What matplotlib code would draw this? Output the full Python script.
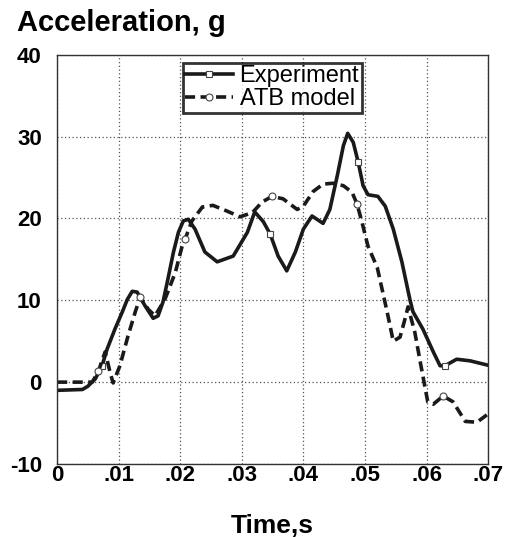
import matplotlib
matplotlib.use("Agg")
import matplotlib.pyplot as plt
from matplotlib.ticker import FixedLocator, FixedFormatter

# Experiment (solid)
exp_t = [0.0, 0.0041, 0.0050, 0.0062, 0.0073, 0.0081, 0.0094, 0.0106, 0.0114,
         0.0122, 0.0130, 0.0143, 0.0156, 0.0164, 0.0172, 0.0180, 0.0189, 0.0197,
         0.0205, 0.0213, 0.0224, 0.0240, 0.0260, 0.0286, 0.0309, 0.0321, 0.0335,
         0.0346, 0.0359, 0.0373, 0.0387, 0.0400, 0.0414, 0.0432, 0.0443, 0.0455,
         0.0465, 0.0472, 0.0481, 0.0489, 0.0497, 0.0505, 0.0521, 0.0533, 0.0546,
         0.0560, 0.0573, 0.0578, 0.0594, 0.0611, 0.0622, 0.0630, 0.0649, 0.0671,
         0.0698]
exp_g = [-1.0, -0.9, -0.5, 0.4, 2.0, 4.0, 6.5, 8.6, 10.1,
         11.1, 11.0, 9.3, 7.8, 8.1, 9.8, 12.6, 15.9, 18.3,
         19.7, 19.9, 18.7, 15.9, 14.7, 15.4, 18.3, 20.8, 19.6,
         18.1, 15.4, 13.6, 15.9, 18.7, 20.3, 19.4, 21.1, 25.2,
         28.9, 30.4, 29.3, 26.9, 24.0, 22.9, 22.7, 21.5, 18.7,
         14.7, 10.1, 8.6, 6.5, 3.7, 2.0, 2.0, 2.8, 2.6,
         2.1]
exp_marks = [4, 27, 39, 51]

# ATB model (dashed)
atb_t = [0.0, 0.0057, 0.0067, 0.0078, 0.0086, 0.0091, 0.0102, 0.0115, 0.0127,
         0.0135, 0.0148, 0.0159, 0.0175, 0.0192, 0.0203, 0.0208, 0.0219, 0.0236,
         0.0253, 0.0276, 0.0297, 0.0317, 0.0333, 0.0349, 0.0367, 0.0390, 0.0400,
         0.0416, 0.0432, 0.0448, 0.0465, 0.0479, 0.0487, 0.0495, 0.0505, 0.0520,
         0.0536, 0.0546, 0.0557, 0.0565, 0.0570, 0.0581, 0.0590, 0.0596, 0.0602,
         0.0611, 0.0627, 0.0643, 0.0663, 0.0682, 0.0698]
atb_g = [0.0, 0.0, 1.3, 3.7, 1.2, -0.1, 2.0, 5.6, 8.6,
         10.4, 8.9, 8.1, 10.1, 13.4, 16.6, 17.5, 19.7, 21.4,
         21.6, 20.9, 20.2, 20.7, 22.0, 22.7, 22.4, 21.1, 21.5,
         23.3, 24.2, 24.3, 24.0, 23.2, 21.8, 19.6, 16.6, 14.0,
         8.6, 5.0, 5.5, 7.7, 9.2, 6.1, 2.4, 0.0, -2.4,
         -2.7, -1.7, -2.4, -4.8, -4.9, -4.0]
atb_marks = [2, 9, 15, 23, 32, 46]

x_ticks = [0, 0.01, 0.02, 0.03, 0.04, 0.05, 0.06, 0.07]
x_labels = ["0", ".01", ".02", ".03", ".04", ".05", ".06", ".07"]
y_ticks = [-10, 0, 10, 20, 30, 40]

plt.rcParams["font.family"] = ["Liberation Sans", "DejaVu Sans"]
plt.rcParams["axes.unicode_minus"] = False

fig = plt.figure(figsize=(5.1, 5.37), dpi=100)
ax = fig.add_axes([0.112, 0.136, 0.845, 0.762])

ax.plot(exp_t, exp_g, color="#1a1a1a", lw=2.6, marker="s", markevery=exp_marks,
        ms=5, mfc="white", mec="#444444", mew=0.8, label="Experiment",
        solid_joinstyle="round")
ax.plot(atb_t, atb_g, color="#1a1a1a", lw=2.6, ls=(0, (2.8, 1.5)), marker="o",
        markevery=atb_marks, ms=5, mfc="white", mec="#444444", mew=0.8,
        label="ATB model")

ax.set_xlim(0, 0.07)
ax.set_ylim(-10, 40)
ax.xaxis.set_major_locator(FixedLocator(x_ticks))
ax.xaxis.set_major_formatter(FixedFormatter(x_labels))
ax.set_yticks(y_ticks)
ax.grid(True, color="#555555", ls=(0, (1, 2)), lw=0.9)
ax.tick_params(axis="x", length=0, pad=1, labelsize=16)
ax.tick_params(axis="y", length=0, pad=11, labelsize=16)
for lab in ax.get_xticklabels() + ax.get_yticklabels():
    lab.set_fontweight("bold")
for s in ax.spines.values():
    s.set_linewidth(1.0)
    s.set_color("#333333")

leg = ax.legend(loc="upper left", bbox_to_anchor=(0.292, 0.98), frameon=True,
                fancybox=False, fontsize=17, handlelength=2.0, handletextpad=0.3,
                borderpad=0.1, labelspacing=0.05, borderaxespad=0)
leg.get_frame().set_edgecolor("black")
leg.get_frame().set_linewidth(2.0)

fig.text(0.033, 0.957, "Acceleration, g", fontsize=21, fontweight="bold", va="center")
ax.set_xlabel("Time,s", fontsize=19, fontweight="bold", labelpad=20)

fig.savefig("out.png", dpi=100)
